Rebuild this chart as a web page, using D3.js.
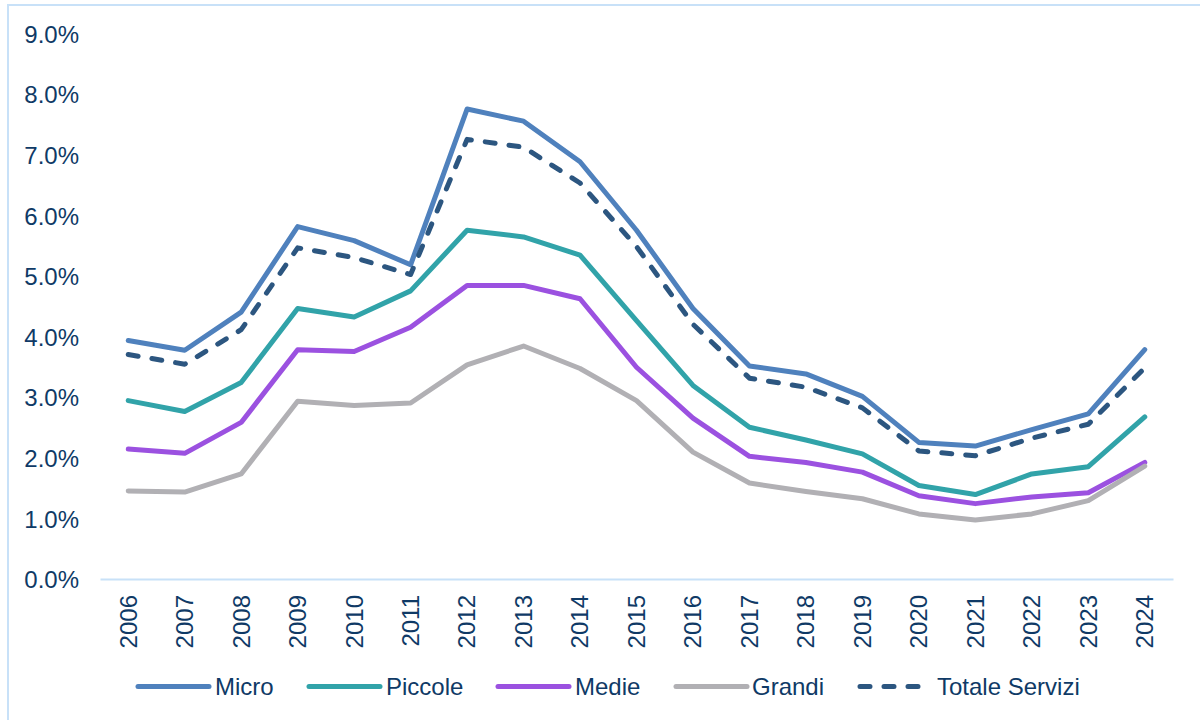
<!DOCTYPE html>
<html>
<head>
<meta charset="utf-8">
<script src="https://cdn.jsdelivr.net/npm/d3@7"></script>
<style>
  html, body { margin: 0; padding: 0; background: #fff; }
  svg { display: block; }
  text { font-family: "Liberation Sans", Arial, sans-serif; }
</style>
</head>
<body>
<svg id="chart" width="1200" height="720"></svg>
<script>
const years = ["2006","2007","2008","2009","2010","2011","2012","2013","2014","2015","2016","2017","2018","2019","2020","2021","2022","2023","2024"];
const micro   = [3.95,3.79,4.42,5.83,5.60,5.20,7.77,7.57,6.90,5.77,4.48,3.53,3.40,3.03,2.27,2.21,2.48,2.74,3.80];
const piccole = [2.96,2.78,3.26,4.48,4.34,4.77,5.77,5.66,5.36,4.28,3.21,2.52,2.31,2.08,1.56,1.41,1.75,1.87,2.69];
const medie   = [2.16,2.09,2.60,3.80,3.77,4.17,4.86,4.86,4.64,3.51,2.67,2.04,1.94,1.78,1.39,1.26,1.37,1.44,1.94];
const grandi  = [1.47,1.45,1.75,2.95,2.88,2.92,3.55,3.86,3.49,2.96,2.11,1.60,1.46,1.34,1.09,0.99,1.09,1.31,1.88];
const totale  = [3.72,3.56,4.13,5.48,5.32,5.04,7.27,7.14,6.55,5.50,4.22,3.33,3.18,2.84,2.13,2.05,2.34,2.57,3.50];
const yTicks  = [0,1,2,3,4,5,6,7,8,9];

const seriesNames = ["Micro","Piccole","Medie","Grandi","Totale Servizi"];
const seriesData  = [micro, piccole, medie, grandi, totale];
const seriesColors = ["#4f81bd","#31a3a9","#9b51e0","#b1b0b4","#2c5680"];
const seriesDash = [null,null,null,null,"10 14"];

const svg = d3.select("#chart");
const textColor = "#0f3a66";
const fontSize = "24px";

// frame
svg.append("rect")
  .attr("x", 8).attr("y", 5).attr("width", 1210).attr("height", 730)
  .attr("fill", "none").attr("stroke", "#c8e1f8").attr("stroke-width", 2);

const mLeft = 100, mRight = 1173, mTop = 34.5, mBottom = 580;

const x = d3.scaleBand().domain(years).range([mLeft, mRight]);
const y = d3.scaleLinear().domain([0, 9]).range([mBottom, mTop]);

// y labels
const yAxis = svg.append("g").attr("transform", `translate(${79},0)`)
  .call(d3.axisLeft(y).tickValues(yTicks).tickSize(0).tickPadding(0).tickFormat(d => d.toFixed(1) + "%"));
yAxis.select(".domain").remove();
yAxis.selectAll("text").attr("fill", textColor).style("font-size", fontSize)
  .style("font-family", '"Liberation Sans", Arial, sans-serif');

// x axis
const xAxis = svg.append("g").attr("transform", `translate(0,${mBottom - 1})`)
  .call(d3.axisBottom(x).tickSize(0).tickPadding(0));
xAxis.select(".domain").attr("stroke", "#c8e1f8").attr("stroke-width", 2);
xAxis.selectAll("text")
  .attr("fill", textColor).style("font-size", fontSize)
  .style("font-family", '"Liberation Sans", Arial, sans-serif')
  .attr("transform", "rotate(-90)")
  .attr("text-anchor", "end")
  .attr("x", -16).attr("y", 0).attr("dy", "0.35em");

// lines
const line = d3.line()
  .x((d, i) => x(years[i]) + x.bandwidth() / 2)
  .y(d => y(d));

seriesData.forEach((data, k) => {
  const p = svg.append("path")
    .datum(data)
    .attr("d", line)
    .attr("fill", "none")
    .attr("stroke", seriesColors[k])
    .attr("stroke-width", 5)
    .attr("stroke-linejoin", "round")
    .attr("stroke-linecap", "round");
  if (seriesDash[k]) p.attr("stroke-dasharray", seriesDash[k]);
});

// legend
const legendItems = [
  {x0: 138, x1: 209, tx: 215},
  {x0: 309, x1: 380, tx: 386},
  {x0: 498, x1: 569, tx: 575},
  {x0: 676, x1: 747, tx: 752},
  {x0: 860, x1: 924, tx: 937}
];
const ly = 686.5;
legendItems.forEach((it, k) => {
  const l = svg.append("line")
    .attr("x1", it.x0).attr("x2", it.x1).attr("y1", ly).attr("y2", ly)
    .attr("stroke", seriesColors[k]).attr("stroke-width", 5)
    .attr("stroke-linecap", "round");
  if (seriesDash[k]) l.attr("stroke-dasharray", seriesDash[k]);
  svg.append("text")
    .attr("x", it.tx).attr("y", ly).attr("dy", "0.35em")
    .attr("fill", textColor).style("font-size", fontSize)
    .text(seriesNames[k]);
});
</script>
</body>
</html>
